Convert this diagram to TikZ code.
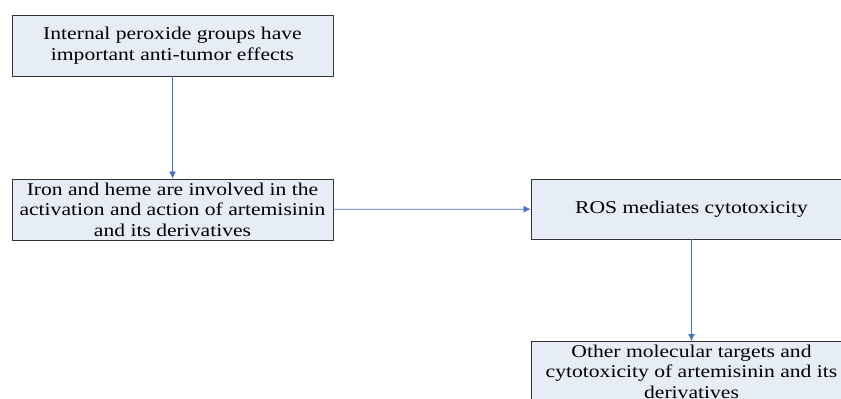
\documentclass[tikz,border=0pt]{standalone}
\usepackage{fontspec}
\setmainfont{Liberation Serif}
\usetikzlibrary{arrows.meta}
\definecolor{boxfill}{RGB}{231,237,247}
\definecolor{linkblue}{RGB}{68,114,196}

\begin{document}
\begin{tikzpicture}[x=1pt,y=-1pt,
  box/.style={draw=black!80,fill=boxfill,line width=0.9pt,minimum width=321pt,inner sep=1pt,align=center,font=\fontsize{18}{20.5}\selectfont\addfontfeature{FakeStretch=1.2}},
  link/.style={draw=linkblue,line width=0.8pt,-{Latex[length=7pt,width=7pt]}}]
\useasboundingbox (0,0) rectangle (841,399);
\clip (0,0) rectangle (841,399);
\node[box,minimum height=61pt] (peroxide) at (172.5,45.5) {Internal peroxide groups have\\important anti-tumor effects};
\node[box,minimum height=61pt] (iron) at (172.5,209.5) {Iron and heme are involved in the\\activation and action of artemisinin\\and its derivatives};
\node[box,minimum height=60pt] (ros) at (691.5,209) {ROS mediates cytotoxicity};
\node[box,minimum height=60pt,anchor=north] (targets) at (691.5,341) {Other molecular targets and\\cytotoxicity of artemisinin and its\\derivatives};
\draw[link] (peroxide) -- (iron);
\draw[link] (iron) -- (ros);
\draw[link] (ros) -- (targets);
\end{tikzpicture}
\end{document}
